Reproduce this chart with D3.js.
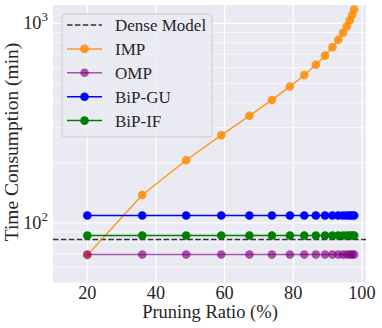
<!DOCTYPE html>
<html>
<head>
<meta charset="utf-8">
<script src="https://d3js.org/d3.v7.min.js"></script>
<style>
body { margin: 0; background: #fff; }
</style>
</head>
<body>
<svg id="chart" width="382" height="328" font-family="'Liberation Serif', 'Times New Roman', Times, serif"></svg>
<script>
// pruning ratio (%) for each IMP round
var ratios = [20, 36, 48.8, 59.04, 67.23, 73.79, 79.03, 83.22, 86.58, 89.26, 91.41, 93.13, 94.5, 95.6, 96.48, 97.19, 97.75];
var impTime = [69, 138, 206, 275, 344, 413, 482, 551, 620, 689, 758, 827, 896, 965, 1034, 1103, 1172];
var ompTime = [69.4, 69.4, 69.4, 69.4, 69.4, 69.4, 69.4, 69.4, 69.4, 69.4, 69.4, 69.4, 69.4, 69.4, 69.4, 69.4, 69.4];
var gu_time = [109, 109, 109, 109, 109, 109, 109, 109, 109, 109, 109, 109, 109, 109, 109, 109, 109];
var if_time = [86.5, 86.5, 86.5, 86.5, 86.5, 86.5, 86.5, 86.5, 86.5, 86.5, 86.5, 86.5, 86.5, 86.5, 86.5, 86.5, 86.5];
var denseTime = 82.5;
var xTicks = [20, 40, 60, 80, 100];
var yMinor = [50, 60, 70, 80, 90, 200, 300, 400, 500, 600, 700, 800, 900];

var series = [
  {name: 'IMP', vals: impTime, color: 'darkorange', op: 0.85},
  {name: 'OMP', vals: ompTime, color: 'purple', op: 0.65},
  {name: 'BiP-GU', vals: gu_time, color: 'blue', op: 1},
  {name: 'BiP-IF', vals: if_time, color: 'green', op: 1}
];

// plot area (top is reserved on window, so pTop)
var pLeft = 53, pRight = 366, pTop = 5, pBottom = 283;
var svg = d3.select('#chart');
var txtCol = '#262626';

var xs = d3.scaleLinear().domain([10, 101.2]).range([pLeft, pRight]);
var ys = d3.scaleLog().domain([50, 1235]).range([pBottom, pTop]);

// background
svg.append('rect').attr('x', pLeft).attr('y', pTop)
  .attr('width', pRight - pLeft).attr('height', pBottom - pTop)
  .attr('fill', '#EAEAF2');

var grid = svg.append('g');
grid.selectAll('.gx').data(xTicks).enter().append('line')
  .attr('x1', d => xs(d)).attr('x2', d => xs(d))
  .attr('y1', pTop).attr('y2', pBottom)
  .attr('stroke', '#fff').attr('stroke-width', 1.2);
grid.selectAll('.gy').data(yMinor).enter().append('line')
  .attr('x1', pLeft).attr('x2', pRight)
  .attr('y1', d => ys(d)).attr('y2', d => ys(d))
  .attr('stroke', '#fff').attr('stroke-width', 0.7);
grid.selectAll('.gY').data([100, 1000]).enter().append('line')
  .attr('x1', pLeft).attr('x2', pRight)
  .attr('y1', d => ys(d)).attr('y2', d => ys(d))
  .attr('stroke', '#fff').attr('stroke-width', 1.2);

// dense model line
svg.append('line')
  .attr('x1', pLeft).attr('x2', pRight)
  .attr('y1', ys(denseTime)).attr('y2', ys(denseTime))
  .attr('stroke', '#333').attr('stroke-width', 1.5)
  .attr('stroke-dasharray', '5.5,2.4');

var line = d3.line().x((d, i) => xs(ratios[i])).y(d => ys(d));

series.forEach(function(s) {
  var g = svg.append('g');
  g.append('path').datum(s.vals)
    .attr('d', line)
    .attr('fill', 'none')
    .attr('stroke', s.color).attr('stroke-width', 1.5)
    .attr('stroke-opacity', s.op);
  g.selectAll('circle').data(s.vals).enter().append('circle')
    .attr('cx', (d, i) => xs(ratios[i]))
    .attr('cy', d => ys(d))
    .attr('r', 4.3)
    .attr('fill', s.color).attr('fill-opacity', s.op);
});

// x axis labels
svg.selectAll('.xl').data(xTicks).enter().append('text')
  .attr('x', d => xs(d)).attr('y', 299)
  .attr('text-anchor', 'middle').attr('font-size', 18.3).attr('fill', txtCol)
  .text(d => d);
svg.append('text')
  .attr('x', 210).attr('y', 318)
  .attr('text-anchor', 'middle').attr('font-size', 18.5).attr('fill', txtCol)
  .text('Pruning Ratio (%)');

// y axis labels
[[100, '2'], [1000, '3']].forEach(function(t) {
  var txt = svg.append('text')
    .attr('x', 48).attr('y', ys(t[0]) + 6)
    .attr('text-anchor', 'end').attr('font-size', 18.3).attr('fill', txtCol);
  txt.append('tspan').text('10');
  txt.append('tspan').attr('dy', -8).attr('font-size', 13).text(t[1]);
});
svg.append('text')
  .attr('transform', 'translate(17.5,142) rotate(-90)')
  .attr('text-anchor', 'middle').attr('font-size', 19.5).attr('fill', txtCol)
  .text('Time Consumption (min)');

// legend
var lg = svg.append('g');
lg.append('rect').attr('x', 62).attr('y', 14).attr('width', 150).attr('height', 123)
  .attr('rx', 3).attr('fill', '#EAEAF2').attr('fill-opacity', 0.8)
  .attr('stroke', '#ccc').attr('stroke-width', 1);
var items = [{name: 'Dense Model', dense: true}].concat(series);
items.forEach(function(it, i) {
  var cy = 25 + i * 23.9;
  if (it.dense) {
    lg.append('line').attr('x1', 67).attr('x2', 102).attr('y1', cy).attr('y2', cy)
      .attr('stroke', '#333').attr('stroke-width', 1.5).attr('stroke-dasharray', '5.5,2.4');
  } else {
    lg.append('line').attr('x1', 67).attr('x2', 102).attr('y1', cy).attr('y2', cy)
      .attr('stroke', it.color).attr('stroke-width', 1.5).attr('stroke-opacity', it.op);
    lg.append('circle').attr('cx', 84.5).attr('cy', cy).attr('r', 4.3)
      .attr('fill', it.color).attr('fill-opacity', it.op);
  }
  lg.append('text').attr('x', 115).attr('y', cy + 6).attr('font-size', 17)
    .attr('fill', txtCol).text(it.name);
});
</script>
</body>
</html>
